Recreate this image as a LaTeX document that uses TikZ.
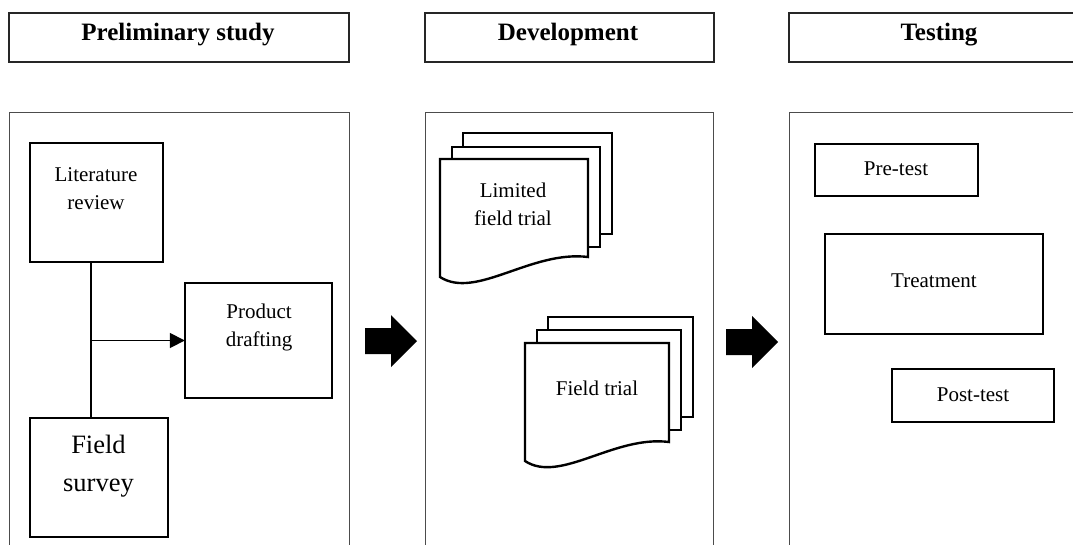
\documentclass[tikz,border=0pt]{standalone}
\usepackage{fontspec}
\setmainfont{Liberation Serif}
\usetikzlibrary{arrows.meta}
\tikzset{
  panel/.style={draw=black!70, line width=1pt},
  header/.style={draw=black!85, line width=1.3pt},
  hdtext/.style={font=\bfseries\fontsize{25}{30}\selectfont, anchor=base},
  box/.style={draw=black, line width=2.4pt, inner sep=0pt, fill=white},
  lbl/.style={font=\fontsize{21}{28}\selectfont, align=center, inner sep=0pt},
  biglbl/.style={font=\fontsize{26.5}{38}\selectfont, align=center, inner sep=0pt},
  doc/.style={draw=black, line width=2.4pt, fill=white, line join=miter},
  conn/.style={draw=black, line width=1.7pt},
  blockarrow/.style={fill=black}
}
\begin{document}
\begin{tikzpicture}[x=1pt,y=-1pt]
\useasboundingbox (0,0) rectangle (1073,544);
% headers
\draw[header] (9,13) rectangle (349,62);
\draw[header] (425,13) rectangle (714,62);
\draw[header] (1080,13) -- (789,13) -- (789,62) -- (1080,62);
\node[hdtext] (h1) at (178,40) {Preliminary study};
\node[hdtext] (h2) at (568,40) {Development};
\node[hdtext] (h3) at (939,40) {Testing};
% panels
\draw[panel] (9,550) -- (9,112) -- (349,112) -- (349,550);
\draw[panel] (425,550) -- (425,112) -- (713,112) -- (713,550);
\draw[panel] (789,550) -- (789,112) -- (1080,112);
% panel 1
\node[box, minimum width=133pt, minimum height=119pt] (lit) at (96.5,202.5) {};
\node[lbl] (littext) at (96,189) {Literature\\review};
\node[box, minimum width=138pt, minimum height=119pt] (field) at (99,477.5) {};
\node[biglbl] (fieldtext) at (98.5,466) {Field\\survey};
\node[box, minimum width=147pt, minimum height=115pt] (prod) at (258.5,340.5) {};
\node[lbl] (prodtext) at (259,327) {Product\\drafting};
\coordinate (j) at (91,340.5);
\draw[conn] (lit.south -| j) -- (field.north -| j);
\draw[conn, -{Triangle[length=15pt,width=15pt]}, shorten >=-1pt] (j) -- (prod.west);
% block arrows
\fill[blockarrow] (365,328) -- (391,328) -- (391,315) -- (417,341) -- (391,367) -- (391,354) -- (365,354) -- cycle;
\fill[blockarrow] (726,329) -- (752,329) -- (752,316) -- (778,342) -- (752,368) -- (752,355) -- (726,355) -- cycle;
% panel 2: limited field trial
\filldraw[doc] (463,133) rectangle (612,234);
\filldraw[doc] (452,147) rectangle (600,247);
\filldraw[doc] (440,277) -- (440,159) -- (588,159) -- (588,257)
  .. controls (531,250) and (476,300) .. cycle;
\node[lbl] (lft) at (513,204) {Limited\\field trial};
% field trial
\filldraw[doc] (548,317) rectangle (693,417);
\filldraw[doc] (537,330) rectangle (681,430);
\filldraw[doc] (525,461) -- (525,343) -- (669,343) -- (669,442)
  .. controls (614,435) and (560,484) .. cycle;
\node[lbl] (ft) at (597,388) {Field trial};
% panel 3
\node[box, minimum width=163pt, minimum height=52pt] (pre) at (896.5,170) {};
\node[lbl] (pretext) at (896,169) {Pre-test};
\node[box, minimum width=218pt, minimum height=100pt] (treat) at (934,284) {};
\node[lbl] (treattext) at (934,281) {Treatment};
\node[box, minimum width=162pt, minimum height=53pt] (post) at (973,395.5) {};
\node[lbl] (posttext) at (973,395) {Post-test};
\end{tikzpicture}
\end{document}
